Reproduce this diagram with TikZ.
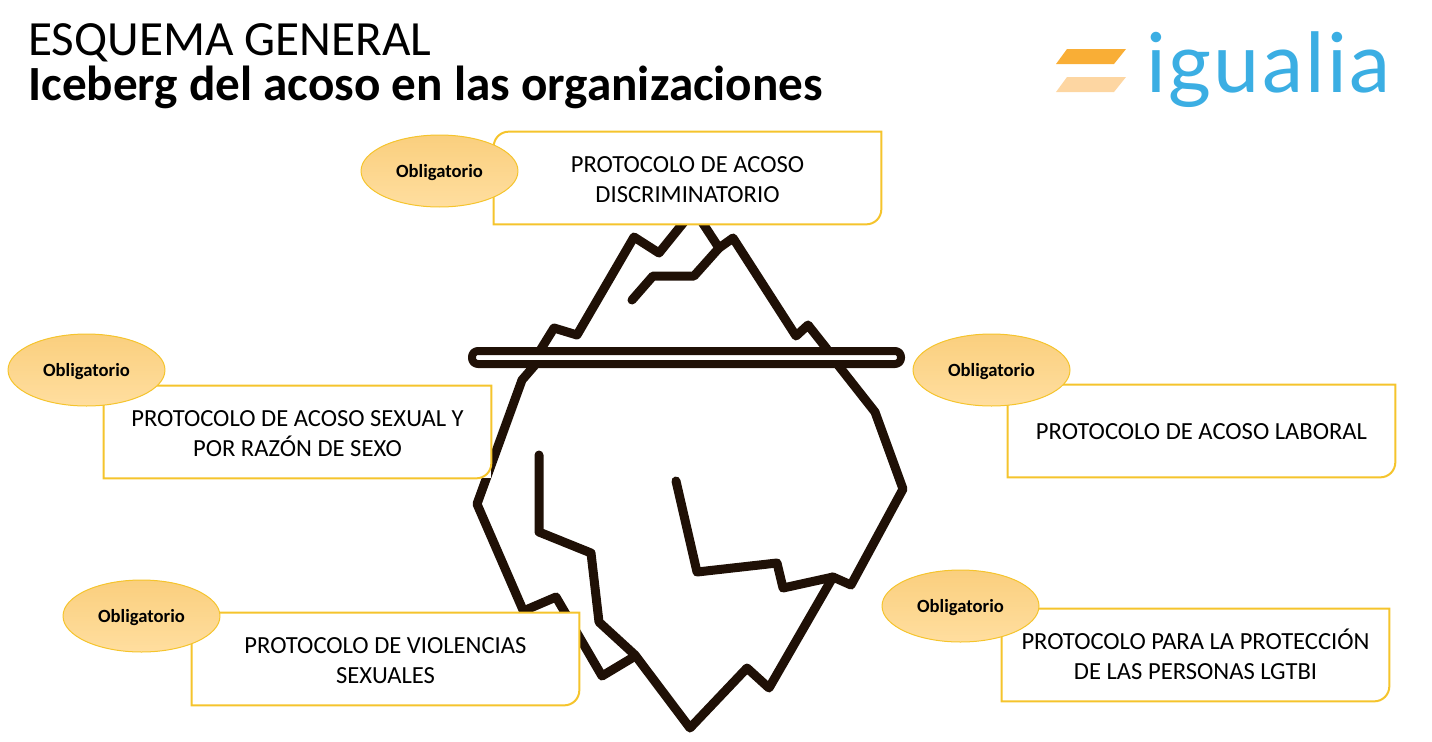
\documentclass[tikz,border=0pt]{standalone}
\usepackage{fontspec}
\usetikzlibrary{shapes.geometric}
\setmainfont{Carlito}
\newfontfamily\logofont[LetterSpace=2.8]{Lato}
\definecolor{icebergdark}{HTML}{1F1006}
\definecolor{boxyellow}{HTML}{F5C42C}
\definecolor{tagtop}{HTML}{FACF7E}
\definecolor{tagbottom}{HTML}{FFDE9F}
\definecolor{logoblue}{HTML}{3BAEE3}
\definecolor{logoorange}{HTML}{F9AE36}
\definecolor{logolight}{HTML}{FDD6A2}
\begin{document}
\begin{tikzpicture}[x=0.02cm, y=-0.02cm,
    iceline/.style={draw=icebergdark, line width=0.18cm, line join=round, line cap=round},
    protbox/.style={fill=white, minimum width=7.74cm, minimum height=1.84cm, inner sep=0pt},
    prottext/.style={inner sep=0pt, align=center, font=\fontsize{14}{17}\selectfont},
    protline/.style={draw=boxyellow, line width=0.04cm},
    tag/.style={ellipse, draw=boxyellow, line width=0.02cm, top color=tagtop, bottom color=tagbottom, minimum width=3.14cm, minimum height=1.44cm, inner sep=0pt, text depth=0pt, font=\fontsize{10.6}{12}\selectfont\bfseries}]

        \useasboundingbox (0,0) rectangle (1432,741);

        % titulo y logo
        \node[anchor=base west, inner sep=0pt, font=\fontsize{28}{30}\selectfont] at (28,55.5) (title) {ESQUEMA GENERAL};
        \node[anchor=base west, inner sep=0pt, font=\fontsize{28}{30}\selectfont\bfseries] at (28,100.5) (subtitle) {Iceberg del acoso en las organizaciones};
        \fill[logoorange] (1056,64) -- (1114,64) -- (1126,49) -- (1067,49) -- cycle;
        \fill[logolight] (1056,92) -- (1114,92) -- (1126,77) -- (1067,77) -- cycle;
        \node[anchor=base west, inner sep=0pt, text=logoblue, font=\logofont\fontsize{47}{50}\selectfont] at (1146,92) (logo) {igualia};

        % iceberg
        \draw[iceline] (541,349) -- (554,328) -- (577,335) -- (634,237) -- (659,253) -- (684,222);
        \draw[iceline] (702,222) -- (719,248) -- (733,238) -- (796,336) -- (808,325) -- (827,349);
        \draw[iceline] (632,300) -- (653,276) -- (694,276) -- (719,248);
        \draw[iceline] (535,365) -- (522,380) -- (477,504) -- (523,610);
        \draw[iceline] (528,609) -- (556,597) -- (602,676) -- (632,658);
        \draw[iceline] (838,365) -- (875,412) -- (903,489) -- (851,585) -- (833,577) -- (783,588) -- (777,563) -- (697,572) -- (676,481);
        \draw[iceline] (833,577) -- (769,688) -- (747,668) -- (690,728) -- (635,655) -- (599,622) -- (591,553) -- (539,532) -- (539,455);
        \draw[iceline, line width=0.16cm, rounded corners=0.12cm] (472,351) rectangle (901,364);

        % protocolos
        \node[protbox] at (687.5,178) (discrim) {};
        \node[protbox] at (297.5,432) (sexual) {};
        \node[protbox] at (1201.5,431) (laboral) {};
        \node[protbox] at (385.5,659) (violencias) {};
        \node[protbox] at (1195.5,655) (lgtbi) {};

        \foreach \prot in {discrim, sexual, laboral, violencias, lgtbi}
            \draw[protline] (\prot.south west) [rounded corners=0.3cm] -- (\prot.north west) [sharp corners] -- (\prot.north east) [rounded corners=0.3cm] -- (\prot.south east) [sharp corners] -- cycle;

        \node[prottext] at (687.5,180) (discrimtext) {PROTOCOLO DE ACOSO\\DISCRIMINATORIO};
        \node[prottext] at (297.5,434) (sexualtext) {PROTOCOLO DE ACOSO SEXUAL Y\\POR RAZÓN DE SEXO};
        \node[prottext] at (1201.5,432) (laboraltext) {PROTOCOLO DE ACOSO LABORAL};
        \node[prottext] at (385.5,661) (violenciastext) {PROTOCOLO DE VIOLENCIAS\\SEXUALES};
        \node[prottext] at (1195.5,654) (lgtbitext) {PROTOCOLO PARA LA PROTECCIÓN\\DE LAS PERSONAS LGTBI};

        % etiquetas
        \node[tag] at (439.5,171) (tagdiscrim) {Obligatorio};
        \node[tag] at (86.5,370) (tagsexual) {Obligatorio};
        \node[tag] at (991.5,370) (taglaboral) {Obligatorio};
        \node[tag] at (141.5,616) (tagviolencias) {Obligatorio};
        \node[tag] at (960.5,606) (taglgtbi) {Obligatorio};

    \end{tikzpicture}
\end{document}
